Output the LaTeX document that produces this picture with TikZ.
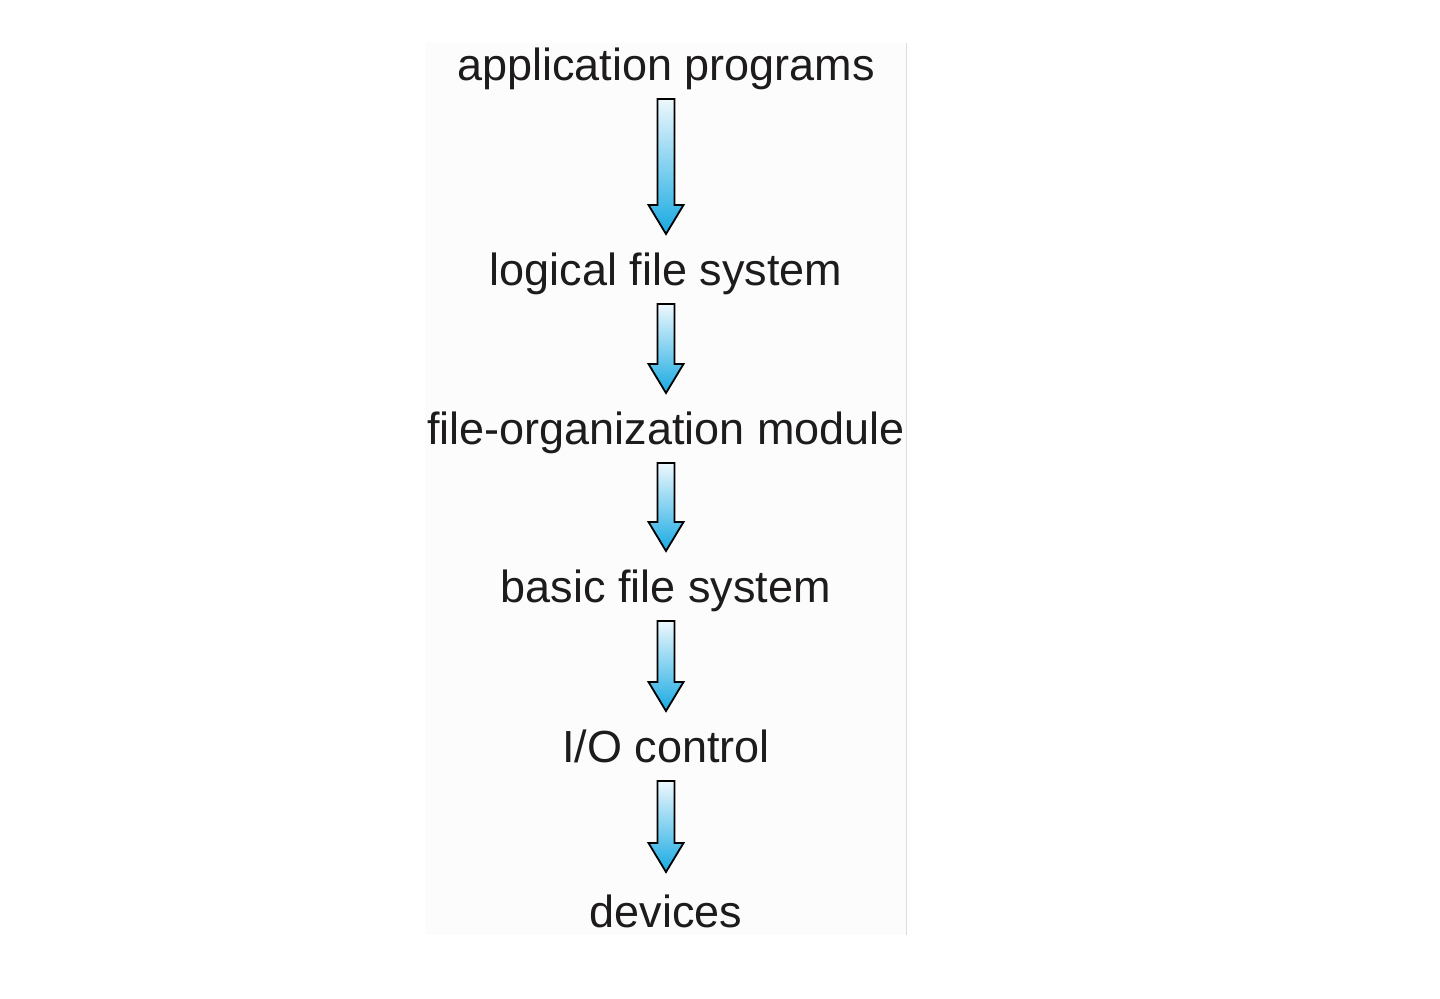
\documentclass[tikz,border=0pt]{standalone}
\usepackage{fontspec}
\setmainfont{Liberation Sans}
\usetikzlibrary{calc}

\definecolor{inkgray}{HTML}{1E1B1C}
\definecolor{arrowtop}{HTML}{EEF8FD}
\definecolor{arrowbot}{HTML}{17A9E2}
\definecolor{panelfill}{HTML}{FCFCFC}
\definecolor{paneledge}{HTML}{DDDDDD}

\tikzset{
  layer/.style={anchor=base,inner sep=0pt,text=inkgray,
    font=\fontsize{22.5}{27}\selectfont},
  blockarrow/.style={draw=black,line width=0.9pt,line join=miter,
    top color=arrowtop,bottom color=arrowbot}
}

% block arrow from below one layer to above the next
\newcommand{\flowarrow}[3][51]{%
  \coordinate (s) at ($(#2.base)+(0,19)$);
  \coordinate (t) at ($(#3.base)+(0,-#1)$);
  \draw[blockarrow] ($(s)+(-8.5,0)$) -- ($(t)+(-8.5,-29)$) -- ($(t)+(-17.5,-29)$)
    -- (t) -- ($(t)+(17.5,-29)$) -- ($(t)+(8.5,-29)$) -- ($(s)+(8.5,0)$) -- cycle;}

\begin{document}
\begin{tikzpicture}[x=0.5pt,y=-0.5pt]
  \useasboundingbox (0,0) rectangle (1440,998);
  \fill[panelfill] (425,43) rectangle (906,935);
  \draw[paneledge,line width=0.5pt] (906,43) -- (906,935);

  \node[layer] (app) at (666,80) {application programs};
  \node[layer] (lfs) at (666,285) {logical file system};
  \node[layer] (fom) at (666,444) {file-organization module};
  \node[layer] (bfs) at (666,602) {basic file system};
  \node[layer] (ioc) at (666,762) {I/O control};
  \node[layer] (dev) at (666,927) {devices};

  \flowarrow{app}{lfs}
  \flowarrow{lfs}{fom}
  \flowarrow{fom}{bfs}
  \flowarrow{bfs}{ioc}
  \flowarrow[55]{ioc}{dev}
\end{tikzpicture}
\end{document}
